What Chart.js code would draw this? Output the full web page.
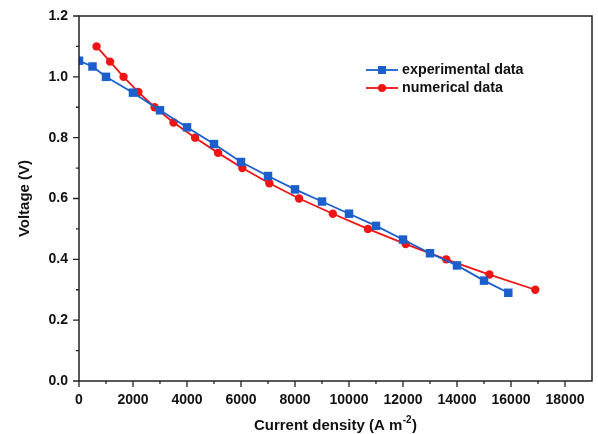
<!DOCTYPE html>
<html><head><meta charset="utf-8">
<script src="https://cdn.jsdelivr.net/npm/chart.js@4/dist/chart.umd.min.js"></script>
<style>html,body{margin:0;padding:0;background:#fff}#wrap{width:598px;height:434px}</style>
</head><body><div id="wrap"><canvas id="c" width="598" height="434"></canvas></div>
<script>
const expX = [0, 500, 1000, 2000, 3000, 4000, 5000, 6000, 7000, 8000, 9000, 10000, 11000, 12000, 13000, 14000, 15000, 15900];
const expY = [1.053, 1.034, 1.0, 0.948, 0.89, 0.834, 0.779, 0.72, 0.674, 0.63, 0.59, 0.55, 0.51, 0.465, 0.42, 0.38, 0.33, 0.29];
const numX = [650, 1150, 1650, 2200, 2800, 3500, 4300, 5150, 6050, 7050, 8150, 9400, 10700, 12100, 13600, 15200, 16900];
const numY = [1.1, 1.05, 1.0, 0.95, 0.9, 0.85, 0.8, 0.75, 0.7, 0.65, 0.6, 0.55, 0.5, 0.45, 0.4, 0.35, 0.3];
const xTicks = [0, 2000, 4000, 6000, 8000, 10000, 12000, 14000, 16000, 18000];
const yTicks = [0.0, 0.2, 0.4, 0.6, 0.8, 1.0, 1.2];
const xMinor = [1000, 3000, 5000, 7000, 9000, 11000, 13000, 15000, 17000];
const yMinor = [0.1, 0.3, 0.5, 0.7, 0.9, 1.1];
const seriesNames = ['experimental data', 'numerical data'];
const xTitle = ['Current density (A m', '-2', ')'];
const yTitle = 'Voltage (V)';

const BLUE = '#1a5fcc';
const RED = '#f01414';
const FONT = '"Liberation Sans", Arial, sans-serif';

const frame = {
  id: 'frame',
  afterDraw(chart) {
    const ctx = chart.ctx, a = chart.chartArea;
    const xs = chart.scales.x, ys = chart.scales.y;
    ctx.save();
    ctx.strokeStyle = '#222';
    ctx.lineWidth = 1.5;
    ctx.strokeRect(a.left, a.top, a.right - a.left, a.bottom - a.top);
    ctx.lineWidth = 1.3;
    ctx.beginPath();
    xTicks.forEach(v => { const p = xs.getPixelForValue(v); ctx.moveTo(p, a.bottom); ctx.lineTo(p, a.bottom + 6); });
    xMinor.forEach(v => { const p = xs.getPixelForValue(v); ctx.moveTo(p, a.bottom); ctx.lineTo(p, a.bottom + 3); });
    yTicks.forEach(v => { const p = ys.getPixelForValue(v); ctx.moveTo(a.left, p); ctx.lineTo(a.left - 6, p); });
    yMinor.forEach(v => { const p = ys.getPixelForValue(v); ctx.moveTo(a.left, p); ctx.lineTo(a.left - 3, p); });
    ctx.stroke();
    // legend
    const items = [[BLUE, 'rect', 70], [RED, 'circle', 88]];
    items.forEach((it, i) => {
      const [col, shape, y] = it;
      ctx.strokeStyle = col; ctx.fillStyle = col; ctx.lineWidth = 1.8;
      ctx.beginPath(); ctx.moveTo(366, y); ctx.lineTo(398, y); ctx.stroke();
      ctx.beginPath();
      if (shape === 'rect') ctx.rect(378, y - 4, 8, 8); else ctx.arc(382, y, 4, 0, Math.PI * 2);
      ctx.fill();
      ctx.fillStyle = '#111';
      ctx.font = 'bold 14.3px ' + FONT;
      ctx.textBaseline = 'middle'; ctx.textAlign = 'left';
      ctx.fillText(seriesNames[i], 402, y + 0.5);
    });
    // x title with superscript
    ctx.fillStyle = '#111';
    ctx.textBaseline = 'alphabetic';
    ctx.font = 'bold 15px ' + FONT;
    const w1 = ctx.measureText(xTitle[0]).width;
    ctx.font = 'bold 10px ' + FONT;
    const w2 = ctx.measureText(xTitle[1]).width;
    ctx.font = 'bold 15px ' + FONT;
    const w3 = ctx.measureText(xTitle[2]).width;
    const tw = w1 + w2 + w3 + 1;
    let x0 = (a.left + a.right) / 2 - tw / 2;
    const by = 430;
    ctx.fillText(xTitle[0], x0, by);
    ctx.font = 'bold 10px ' + FONT;
    ctx.fillText(xTitle[1], x0 + w1 + 0.5, by - 7);
    ctx.font = 'bold 15px ' + FONT;
    ctx.fillText(xTitle[2], x0 + w1 + w2 + 1, by);
    ctx.restore();
  }
};

const hiddenGrid = { display: true, drawOnChartArea: false, drawTicks: true, tickLength: 8, color: 'rgba(0,0,0,0)' };

new Chart(document.getElementById('c'), {
  type: 'scatter',
  data: {
    datasets: [
      { label: seriesNames[0], data: expX.map((x, i) => ({ x, y: expY[i] })), showLine: true,
        borderColor: BLUE, backgroundColor: BLUE, borderWidth: 1.8, pointStyle: 'rect',
        pointRadius: 6, pointBorderWidth: 0, pointBackgroundColor: BLUE, tension: 0 },
      { label: seriesNames[1], data: numX.map((x, i) => ({ x, y: numY[i] })), showLine: true,
        borderColor: RED, backgroundColor: RED, borderWidth: 1.8, pointStyle: 'circle',
        pointRadius: 4.2, pointBorderWidth: 0, pointBackgroundColor: RED, tension: 0 }
    ]
  },
  options: {
    responsive: false, animation: false,
    layout: { padding: { top: 16, right: 3, left: 0, bottom: 0 } },
    plugins: { legend: { display: false }, tooltip: { enabled: false } },
    scales: {
      x: {
        type: 'linear', min: 0, max: 19000,
        afterBuildTicks: s => { s.ticks = xTicks.map(v => ({ value: v })); },
        afterFit: s => { s.height = 53; },
        grid: hiddenGrid,
        border: { display: false },
        ticks: { padding: 3, color: '#111', font: { family: FONT, size: 14, weight: 'bold' }, maxRotation: 0, callback: v => String(v) }
      },
      y: {
        type: 'linear', min: 0, max: 1.2,
        afterBuildTicks: s => { s.ticks = yTicks.map(v => ({ value: v })); },
        afterFit: s => { s.width = 79; },
        grid: hiddenGrid,
        border: { display: false },
        title: { display: true, text: yTitle, color: '#111', font: { family: FONT, size: 15, weight: 'bold' }, padding: { top: 16, bottom: 0 } },
        ticks: { padding: 3, color: '#111', font: { family: FONT, size: 14, weight: 'bold' }, callback: v => Number(v).toFixed(1) }
      }
    }
  },
  plugins: [frame]
});
</script></body></html>
